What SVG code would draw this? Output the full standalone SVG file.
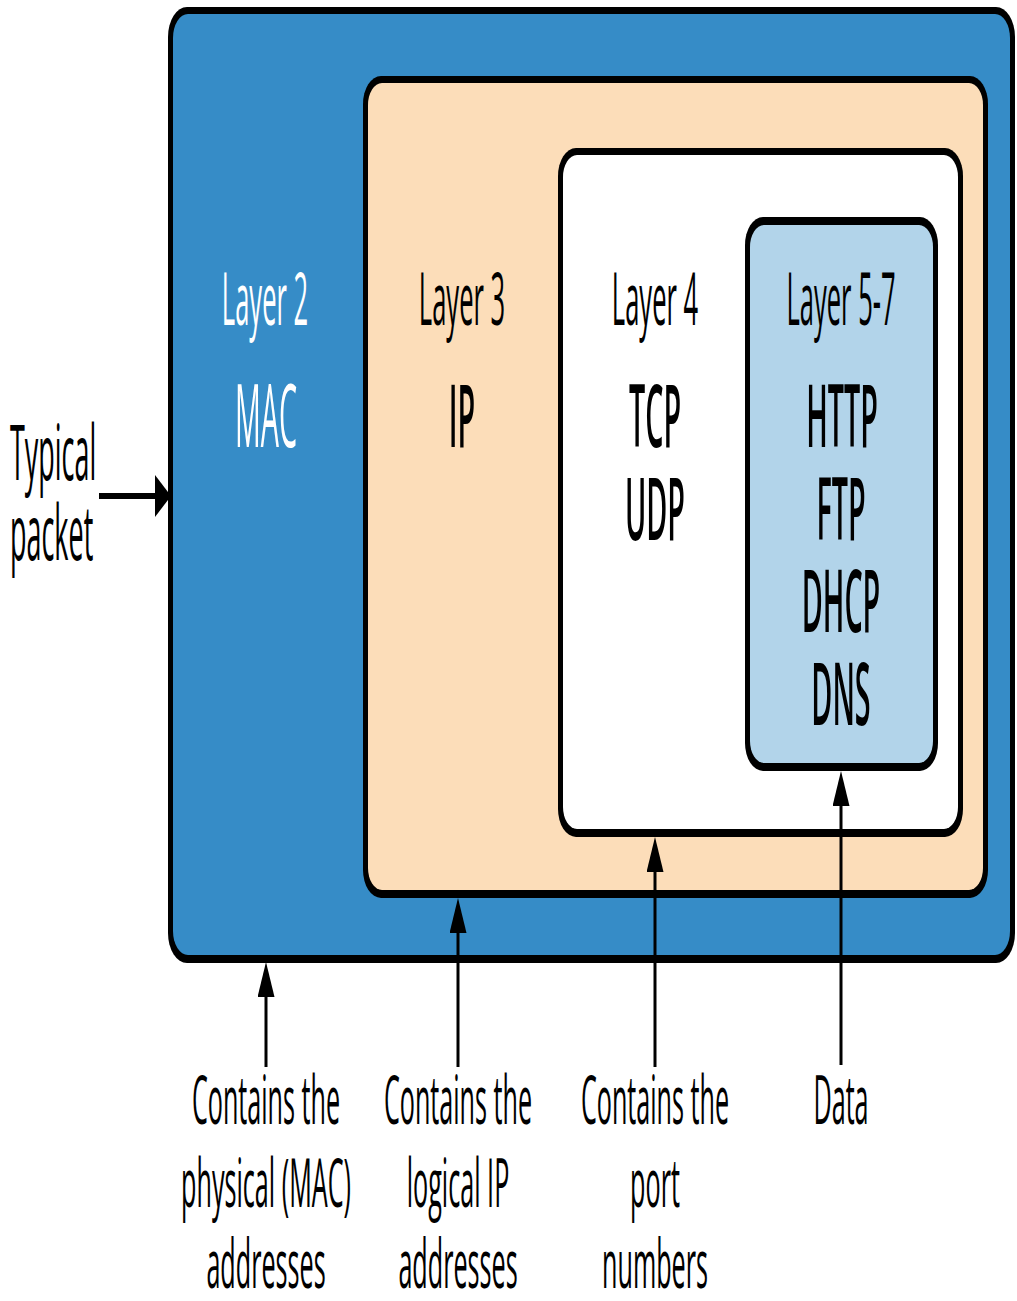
<svg xmlns="http://www.w3.org/2000/svg" width="1017" height="1301" viewBox="0 0 1017 1301">
  <style>
    text { font-family: "Open Sans", "Noto Sans", "Liberation Sans", sans-serif; text-anchor: middle; fill: #000; }
    .edge { fill: #000; }
    .l2 { fill: #368CC7; }
    .l3 { fill: #FCDDB9; }
    .l4 { fill: #FFFFFF; }
    .l57 { fill: #B2D4EA; }
    .layer { font-size: 73px; }
    .side { font-size: 77px; text-anchor: start; }
    .proto { font-size: 87px; font-weight: 600; }
    .note { font-size: 68px; }
    .white { fill: #FFFFFF; }
    .conn { stroke: #000; stroke-width: 3; fill: none; }
    .connh { stroke: #000; stroke-width: 6; fill: none; }
  </style>
  <defs>
    <marker id="headV" markerUnits="userSpaceOnUse" markerWidth="35" markerHeight="17" refX="0" refY="8.5" orient="auto" viewBox="0 0 35 17">
      <path d="M0,0 L35,8.5 L0,17 z" fill="#000"/>
    </marker>
    <marker id="headH" markerUnits="userSpaceOnUse" markerWidth="16" markerHeight="42" refX="0" refY="21" orient="auto" viewBox="0 0 16 42">
      <path d="M0,0 L16,21 L0,42 z" fill="#000"/>
    </marker>
  </defs>

  <g id="layer2">
    <rect class="edge" x="168" y="7" width="847" height="956" rx="19" ry="30"/>
    <rect class="l2" x="173" y="14" width="837" height="941" rx="15" ry="24"/>
    <text class="layer white" transform="translate(265,325) scale(0.35,1)">Layer 2</text>
    <text class="proto white" style="font-weight:400" transform="translate(266,447) scale(0.33,1)">MAC</text>
  </g>

  <g id="layer3">
    <rect class="edge" x="363" y="76" width="625" height="822" rx="18" ry="28"/>
    <rect class="l3" x="368" y="83" width="615" height="807" rx="14" ry="22"/>
    <text class="layer" transform="translate(462,325) scale(0.35,1)">Layer 3</text>
    <text class="proto" transform="translate(462,447) scale(0.33,1)">IP</text>
  </g>

  <g id="layer4">
    <rect class="edge" x="558" y="148" width="405" height="689" rx="18" ry="28"/>
    <rect class="l4" x="563" y="155" width="395" height="674" rx="14" ry="22"/>
    <text class="layer" transform="translate(655,325) scale(0.35,1)">Layer 4</text>
    <text class="proto" transform="translate(655,447) scale(0.33,1)">TCP</text>
    <text class="proto" transform="translate(655,540) scale(0.33,1)">UDP</text>
  </g>

  <g id="layer57">
    <rect class="edge" x="745" y="217" width="193" height="554" rx="18" ry="28"/>
    <rect class="l57" x="750" y="225" width="183" height="538" rx="14" ry="22"/>
    <text class="layer" transform="translate(841,325) scale(0.35,1)">Layer 5-7</text>
    <text class="proto" transform="translate(842,447) scale(0.33,1)">HTTP</text>
    <text class="proto" transform="translate(841,540) scale(0.33,1)">FTP</text>
    <text class="proto" transform="translate(841,632) scale(0.33,1)">DHCP</text>
    <text class="proto" transform="translate(841,725) scale(0.33,1)">DNS</text>
  </g>

  <g id="connectors">
    <line class="connh" x1="99" y1="496" x2="155" y2="496" marker-end="url(#headH)"/>
    <line class="conn" x1="266" y1="1067" x2="266" y2="997" marker-end="url(#headV)"/>
    <line class="conn" x1="458" y1="1067" x2="458" y2="933" marker-end="url(#headV)"/>
    <line class="conn" x1="655" y1="1067" x2="655" y2="872" marker-end="url(#headV)"/>
    <line class="conn" x1="841" y1="1065" x2="841" y2="806" marker-end="url(#headV)"/>
  </g>

  <g id="typical-packet">
    <text class="side" transform="translate(10,480) scale(0.35,1)">Typical</text>
    <text class="side" transform="translate(10,560) scale(0.35,1)">packet</text>
  </g>

  <g id="note-l2">
    <text class="note" transform="translate(266,1124) scale(0.37,1)">Contains the</text>
    <text class="note" transform="translate(266,1207) scale(0.37,1)">physical (MAC)</text>
    <text class="note" transform="translate(266,1288) scale(0.37,1)">addresses</text>
  </g>
  <g id="note-l3">
    <text class="note" transform="translate(458,1124) scale(0.37,1)">Contains the</text>
    <text class="note" transform="translate(458,1207) scale(0.37,1)">logical IP</text>
    <text class="note" transform="translate(458,1288) scale(0.37,1)">addresses</text>
  </g>
  <g id="note-l4">
    <text class="note" transform="translate(655,1124) scale(0.37,1)">Contains the</text>
    <text class="note" transform="translate(655,1207) scale(0.37,1)">port</text>
    <text class="note" transform="translate(655,1288) scale(0.37,1)">numbers</text>
  </g>
  <g id="note-l57">
    <text class="note" transform="translate(841,1124) scale(0.37,1)">Data</text>
  </g>
</svg>
